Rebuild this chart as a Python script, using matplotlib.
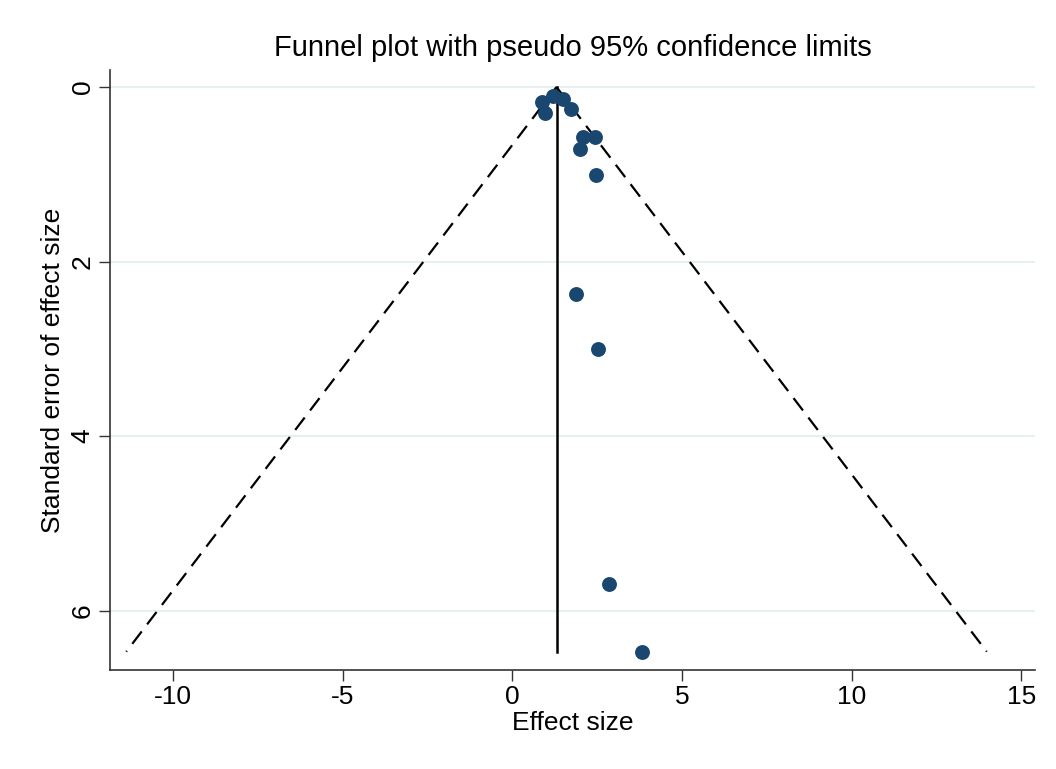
import matplotlib
matplotlib.use("Agg")
import matplotlib.pyplot as plt
import numpy as np

plt.rcParams['font.family'] = ['Liberation Sans', 'DejaVu Sans']

effect = [0.88, 0.95, 1.21, 1.50, 1.74, 2.09, 2.42, 1.98, 2.45, 1.86, 2.51, 2.86, 3.83]
se = [0.175, 0.30, 0.10, 0.14, 0.25, 0.57, 0.57, 0.71, 1.01, 2.37, 3.00, 5.70, 6.47]
pooled = 1.30
xticks = [-10, -5, 0, 5, 10, 15]
yticks = [0, 2, 4, 6]

fig = plt.figure(figsize=(10.56, 7.69), dpi=100)
ax = fig.add_axes([0.1042, 0.1287, 0.8758, 0.7803])

for y in yticks:
    ax.axhline(y, color='#e6f0f2', lw=1.5, zorder=0)

maxse = max(se)
ax.plot([pooled, pooled - 1.96 * maxse], [0, maxse], color='black', lw=1.6, ls=(0, (7, 4)))
ax.plot([pooled, pooled + 1.96 * maxse], [0, maxse], color='black', lw=1.6, ls=(0, (7, 4)))
ax.plot([pooled, pooled], [0, maxse], color='black', lw=1.8)
ax.scatter(effect, se, s=115, color='#1a476f', zorder=3, linewidths=0)

ax.set_xlim(-11.86, 15.4)
ax.set_ylim(6.68, -0.195)
ax.set_xticks(xticks)
ax.set_yticks(yticks)
ax.set_xticklabels([str(v) for v in xticks], fontsize=19)
ax.set_yticklabels([str(v) for v in yticks], fontsize=19, rotation=90, va='center')
ax.tick_params(axis='both', length=8, width=1, color='#333333', direction='out')
ax.tick_params(axis='x', pad=3)
ax.tick_params(axis='y', pad=3)
for s in ['top', 'right']:
    ax.spines[s].set_visible(False)
for s in ['left', 'bottom']:
    ax.spines[s].set_color('#333333')
    ax.spines[s].set_linewidth(1.2)

ax.set_xlabel('Effect size', fontsize=19, labelpad=1)
ax.set_ylabel('Standard error of effect size', fontsize=19, labelpad=4)
ax.set_title('Funnel plot with pseudo 95% confidence limits', fontsize=21, pad=10)

fig.savefig('out.png', dpi=100, facecolor='white')
